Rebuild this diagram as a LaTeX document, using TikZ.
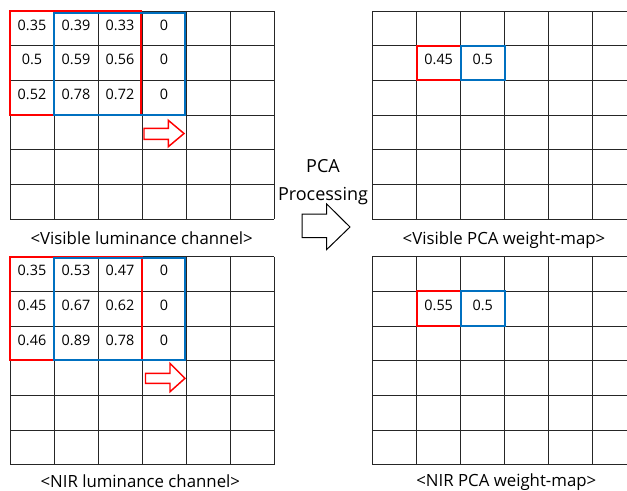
\documentclass[tikz,border=0pt]{standalone}
\usepackage{fontspec}
\setmainfont{Open Sans}
\definecolor{boxred}{RGB}{255,0,0}
\definecolor{boxblue}{RGB}{0,112,192}
\tikzset{
  cellline/.style={line width=0.75pt, black!85},
  redbox/.style={draw=boxred, line width=1.5pt},
  bluebox/.style={draw=boxblue, line width=1.5pt},
  val/.style={inner sep=0pt, font=\fontsize{10.8}{13}\selectfont},
  caption/.style={inner sep=0pt, font=\fontsize{12.6}{15}\selectfont},
  midtext/.style={inner sep=0pt, font=\fontsize{13.5}{16}\selectfont},
  shiftarrow/.style={draw=boxred, line width=1.1pt, fill=white},
  bigarrow/.style={draw=black, line width=0.75pt, fill=white},
}
% 6x6 grid, #1 = left x, #2 = top y
\newcommand{\cellgrid}[2]{%
  \foreach \i in {0,...,6} {
    \draw[cellline] (#1+44*\i,#2) -- (#1+44*\i,#2+208);
    \draw[cellline] (#1,#2+34.67*\i) -- (#1+264,#2+34.67*\i);
  }
}
\begin{document}
\begin{tikzpicture}[x=0.75pt,y=0.75pt,yscale=-1,xscale=1]
\useasboundingbox (0,0) rectangle (627,490);
\clip (0,0) rectangle (627,490);

%Grids
\cellgrid{10}{11}
\cellgrid{10}{256.7}
\cellgrid{372.3}{11}
\cellgrid{372.3}{256.7}

%Visible luminance values
\foreach \a/\b/\c/\d [count=\r from 0] in {0.35/0.39/0.33/0, 0.5/0.59/0.56/0, 0.52/0.78/0.72/0} {
  \node[val] (vis\r a) at (32,25+34.67*\r) {\a};
  \node[val] (vis\r b) at (76,25+34.67*\r) {\b};
  \node[val] (vis\r c) at (120,25+34.67*\r) {\c};
  \node[val] (vis\r d) at (164,25+34.67*\r) {\d};
}
%NIR luminance values
\foreach \a/\b/\c/\d [count=\r from 0] in {0.35/0.53/0.47/0, 0.45/0.67/0.62/0, 0.46/0.89/0.78/0} {
  \node[val] (nir\r a) at (32,270.7+34.67*\r) {\a};
  \node[val] (nir\r b) at (76,270.7+34.67*\r) {\b};
  \node[val] (nir\r c) at (120,270.7+34.67*\r) {\c};
  \node[val] (nir\r d) at (164,270.7+34.67*\r) {\d};
}

%Windows
\draw[redbox] (10,11) rectangle (141,115);
\draw[bluebox] (54,12.5) rectangle (184.5,114.5);
\draw[redbox] (10,256.7) rectangle (142.3,360);
\draw[bluebox] (54,257.5) rectangle (184.5,360);

%Shift arrows
\draw[shiftarrow] (144,128.3) -- (168.3,128.3) -- (168.3,120.3) -- (184,133.5) -- (168.3,146.7) -- (168.3,139.3) -- (144,139.3) -- cycle;
\draw[shiftarrow] (145.5,373.3) -- (170,373.3) -- (170,363.3) -- (185,378.3) -- (170,391.7) -- (170,383.3) -- (145.5,383.3) -- cycle;

%Weight-map cells
\draw[redbox] (416.7,45.7) rectangle (460.7,80.3);
\draw[bluebox] (460.7,45.7) rectangle (504.7,80.3);
\draw[redbox] (416.7,291.4) rectangle (460.7,326);
\draw[bluebox] (460.7,291.4) rectangle (504.7,326);
\node[val] (wvis) at (438.7,59.3) {0.45};
\node[val] (wvisb) at (482.7,59.3) {0.5};
\node[val] (wnir) at (438.7,305) {0.55};
\node[val] (wnirb) at (482.7,305) {0.5};

%PCA arrow
\draw[bigarrow] (302,214) -- (326.7,214) -- (326.7,204) -- (350,227) -- (326.7,249.5) -- (326.7,237.7) -- (302,237.7) -- cycle;
% Text Node
\node[midtext, anchor=base] (pca) at (323,172.7) {PCA};
\node[midtext, anchor=base] (proc) at (323,200.5) {Processing};

% Captions
\node[caption] (capvis) at (141.7,238) {<Visible luminance channel>};
\node[caption] (capnir) at (140.3,481) {<NIR luminance channel>};
\node[caption] (capwvis) at (504,240) {<Visible PCA weight-map>};
\node[caption] (capwnir) at (506.3,482.3) {<NIR PCA weight-map>};

\end{tikzpicture}
\end{document}
